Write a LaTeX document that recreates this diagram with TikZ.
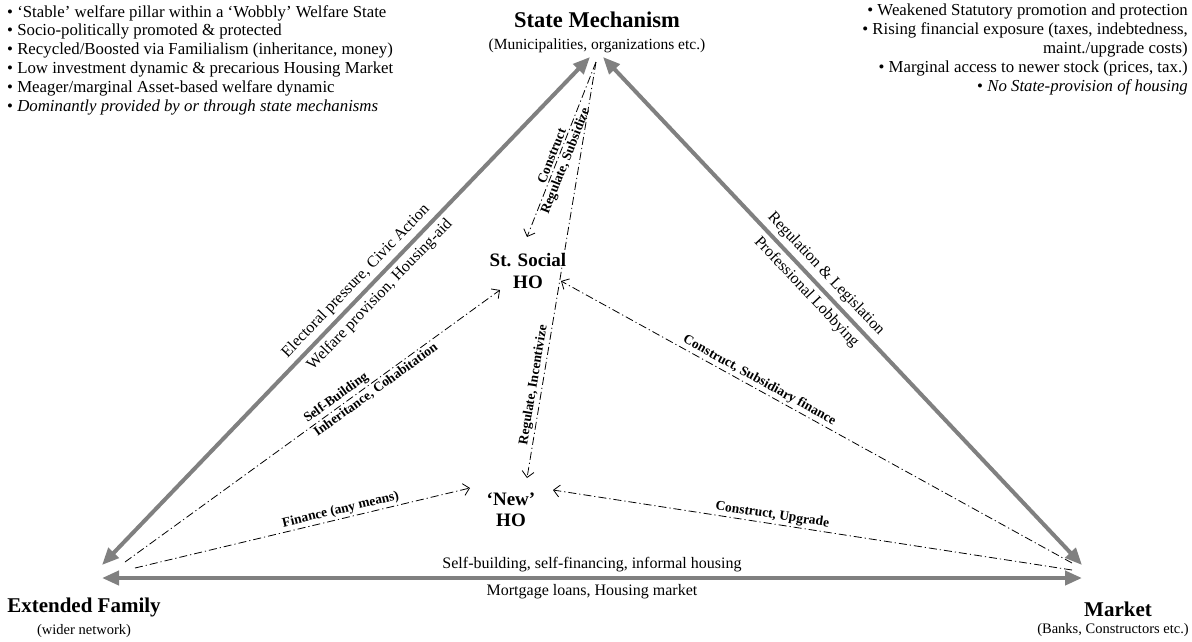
\documentclass[tikz,border=0pt]{standalone}
\usepackage{fontspec}
\setmainfont{Liberation Serif}
\usetikzlibrary{arrows.meta}
\begin{document}
\begin{tikzpicture}[x=1pt,y=-1pt,
  title/.style={font=\fontsize{21}{23}\selectfont\bfseries, inner sep=0pt},
  sub/.style={font=\fontsize{14.5}{16}\selectfont, inner sep=0pt},
  ho/.style={font=\fontsize{19}{21.5}\selectfont\bfseries, align=center, inner sep=0pt},
  ggarrow/.style={draw=gray, line width=4pt, {Triangle[length=17pt,width=14pt]}-{Triangle[length=17pt,width=14pt]}},
  glabel/.style={font=\fontsize{16}{18}\selectfont, sloped, inner sep=4pt},
  dd/.style={draw, line width=0.8pt, dash pattern=on 8pt off 3pt on 1.2pt off 3pt, -{Straight Barb[length=6pt,width=12pt]}},
  dlabel/.style={font=\fontsize{13.5}{15}\selectfont\bfseries, sloped, inner sep=2pt},
  list/.style={font=\fontsize{16.8}{18.8}\selectfont, inner sep=0pt}
]
\useasboundingbox (0,0) rectangle (1192,641);

% main actors
\node[title, font=\fontsize{22.5}{24}\selectfont\bfseries] (state) at (597,20) {State Mechanism};
\node[sub, font=\fontsize{15.5}{17}\selectfont] (statesub) at (597,46) {(Municipalities, organizations etc.)};
\node[title] (family) at (84,607) {Extended Family};
\node[sub] (familysub) at (84,631) {(wider network)};
\node[title] (market) at (1118,609) {Market};
\node[sub] (marketsub) at (1113,630) {(Banks, Constructors etc.)};

% home ownership types
\node[ho] (ss) at (528,271) {St. Social\\HO};
\node[ho] (nh) at (511,510) {‘New’\\HO};

% bullet lists
\node[list, align=left, anchor=north west] (leftlist) at (7,5) {%
• ‘Stable’ welfare pillar within a ‘Wobbly’ Welfare State\\
• Socio-politically promoted \& protected\\
• Recycled/Boosted via Familialism (inheritance, money)\\
• Low investment dynamic \& precarious Housing Market\\
• Meager/marginal Asset-based welfare dynamic\\
• \textit{Dominantly provided by or through state mechanisms}};
\node[list, align=right, anchor=north east] (rightlist) at (1188,4) {%
• Weakened Statutory promotion and protection\\
• Rising financial exposure (taxes, indebtedness,\\
maint./upgrade costs)\\
• Marginal access to newer stock (prices, tax.)\\
• \textit{No State-provision of housing}};

% arrow end points
\coordinate (sL) at (590,57);
\coordinate (sR) at (603,57);
\coordinate (fT) at (102,565);
\coordinate (fH) at (102,578);
\coordinate (mT) at (1082,565);
\coordinate (mH) at (1082,578);
\coordinate (sD) at (596,62);
\coordinate (fD1) at (125,562);
\coordinate (fD2) at (135,568);
\coordinate (mD1) at (1072,563);
\coordinate (mD2) at (1072,570);
\coordinate (ssL) at (500,290);
\coordinate (ssT) at (527,237);
\coordinate (ssR) at (561,281);
\coordinate (nhL) at (470,488);
\coordinate (nhT) at (527,478);
\coordinate (nhR) at (553,490);

% gray triangle
\draw[ggarrow] (sL) -- node[glabel,above,pos=0.46]{Electoral pressure, Civic Action}
                       node[glabel,below,pos=0.45]{Welfare provision, Housing-aid} (fT);
\draw[ggarrow] (sR) -- node[glabel,above,pos=0.445]{Regulation \& Legislation}
                       node[glabel,below,pos=0.445]{Professional Lobbying} (mT);
\draw[ggarrow] (fH) -- node[glabel,above]{Self-building, self-financing, informal housing}
                       node[glabel,below]{Mortgage loans, Housing market} (mH);

% dash-dot relations
\draw[dd] (sD) -- node[dlabel,above,pos=0.55]{Construct}
                  node[dlabel,below,pos=0.55]{Regulate, Subsidize} (ssT);
\draw[dd] (sD) -- node[dlabel,above,pos=0.78]{Regulate, Incentivize} (nhT);
\draw[dd] (mD1) -- node[dlabel,above,pos=0.62]{Construct, Subsidiary finance} (ssR);
\draw[dd] (mD2) -- node[dlabel,above,pos=0.58]{Construct, Upgrade} (nhR);
\draw[dd] (fD1) -- node[dlabel,anchor=south west,pos=0.49]{Self-Building}
                   node[dlabel,anchor=north west,pos=0.49]{Inheritance, Cohabitation} (ssL);
\draw[dd] (fD2) -- node[dlabel,above,pos=0.62]{Finance (any means)} (nhL);
\end{tikzpicture}
\end{document}
